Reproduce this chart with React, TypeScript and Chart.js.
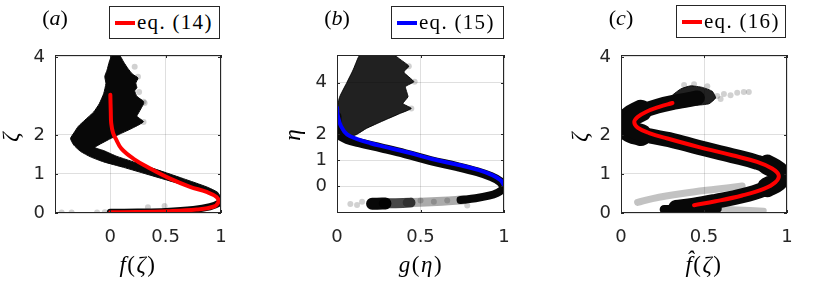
import React, { useEffect, useRef } from "react";
import { Chart, registerables } from "chart.js";

Chart.register(...registerables);

// ---------------- data ----------------
// panel (a)
const A_X_TICKS = [0, 0.5, 1];
const A_Y_TICKS = [0, 1, 2, 4];
const A_RED_X = [0.0, 0.004, 0.008, 0.025, 0.05, 0.1, 0.21, 0.36, 0.54, 0.72, 0.87, 0.96, 0.976, 0.93, 0.78, 0.51, 0.24, 0.0];
const A_RED_Y = [3.03, 2.6, 2.3, 2.05, 1.9, 1.65, 1.39, 1.14, 0.88, 0.67, 0.54, 0.41, 0.28, 0.16, 0.09, 0.045, 0.025, 0.02];
const A_BAND_X = [0.0, 0.25, 0.5, 0.75, 0.9, 0.98, 1.0];
const A_BAND_Y = [0.02, 0.025, 0.04, 0.09, 0.16, 0.25, 0.33];
const A_CLOUD_X = [1.0, 0.97, 0.87, 0.66, 0.36, 0.12, -0.06, -0.18, -0.27, -0.33, -0.36, -0.33, -0.29, -0.23, -0.15, -0.1, -0.06, -0.04, -0.05, -0.03, -0.01, 0.01, 0.05, 0.09, 0.12, 0.16, 0.2, 0.25, 0.23, 0.24, 0.22, 0.24, 0.3, 0.3, 0.26, 0.24, 0.3, 0.21, 0.09, -0.03, -0.14, -0.06, 0.06, 0.36, 0.66, 0.87, 0.97, 1.0];
const A_CLOUD_Y = [0.3, 0.42, 0.53, 0.72, 0.97, 1.17, 1.31, 1.44, 1.58, 1.74, 1.91, 2.05, 2.22, 2.38, 2.59, 2.8, 3.06, 3.32, 3.5, 3.66, 3.87, 4.02, 4.1, 4.02, 3.87, 3.7, 3.56, 3.46, 3.33, 3.21, 3.13, 2.99, 2.86, 2.8, 2.59, 2.48, 2.34, 2.19, 2.03, 1.86, 1.68, 1.6, 1.45, 1.17, 0.88, 0.67, 0.53, 0.38];
const A_DOTS_X = [-0.44, -0.35, -0.12, -0.05, 0.34, 0.49, 0.25, 0.3, 0.3, 0.26, 0.31, 0.22];
const A_DOTS_Y = [0.01, 0.01, 0.01, 0.02, 0.15, 0.18, 3.49, 2.85, 2.33, 3.1, 2.82, 3.75];

// panel (b)
const B_X_TICKS = [0, 0.5, 1];
const B_Y_TICKS = [0, 1, 2, 4];
const B_BLUE_X = [0.0, 0.006, 0.025, 0.06, 0.13, 0.2, 0.28, 0.42, 0.57, 0.73, 0.85, 0.93, 0.98, 1.0];
const B_BLUE_Y = [3.04, 2.68, 2.3, 2.0, 1.8, 1.66, 1.53, 1.31, 1.05, 0.82, 0.62, 0.43, 0.23, 0.03];
const B_BAND_X = [0.0, 0.0, 0.02, 0.06, 0.13, 0.27, 0.41, 0.56, 0.72, 0.84, 0.92, 0.975, 1.0];
const B_BAND_Y = [2.7, 2.2, 1.95, 1.8, 1.68, 1.47, 1.25, 0.99, 0.76, 0.56, 0.38, 0.19, 0.0];
const B_ARM1_X = [1.0, 0.99, 0.96, 0.91, 0.83, 0.74];
const B_ARM1_Y = [0.02, -0.12, -0.25, -0.36, -0.46, -0.53];
const B_ARM2_X = [0.76, 0.63, 0.5, 0.42];
const B_ARM2_Y = [-0.52, -0.58, -0.62, -0.63];
const B_ARM3_X = [0.44, 0.35, 0.28];
const B_ARM3_Y = [-0.63, -0.65, -0.66];
const B_ARM4_X = [0.29, 0.24, 0.21];
const B_ARM4_Y = [-0.66, -0.67, -0.67];
const B_CLOUD_X = [0.0, 0.0, 0.016, 0.056, 0.096, 0.13, 0.15, 0.33, 0.385, 0.43, 0.4, 0.46, 0.41, 0.425, 0.395, 0.445, 0.375, 0.275, 0.176, 0.116, 0.05, 0.01];
const B_CLOUD_Y = [1.8, 3.0, 3.45, 3.96, 4.48, 5.0, 5.1, 5.1, 4.86, 4.63, 4.4, 4.03, 3.84, 3.45, 3.19, 3.0, 2.8, 2.52, 2.23, 1.99, 1.85, 1.78];
const B_DOTS_X = [0.43, 0.465, 0.445, 0.08, 0.12, 0.15, 0.5, 0.58, 0.66, 0.78];
const B_DOTS_Y = [4.63, 4.03, 3.0, -0.68, -0.72, -0.6, -0.55, -0.6, -0.55, -0.74];

// panel (c)
const C_X_TICKS = [0, 0.5, 1];
const C_Y_TICKS = [0, 1, 2, 4];
const C_RED_X = [0.31, 0.23, 0.15, 0.1, 0.08, 0.1, 0.17, 0.28, 0.47, 0.67, 0.82, 0.91, 0.95, 0.93, 0.86, 0.73, 0.57, 0.44];
const C_RED_Y = [2.82, 2.72, 2.59, 2.46, 2.33, 2.19, 2.05, 1.91, 1.69, 1.48, 1.31, 1.14, 0.97, 0.79, 0.62, 0.45, 0.3, 0.2];
const C_BAND_X = [0.46, 0.4, 0.32, 0.22, 0.13, 0.07, 0.045, 0.05, 0.1, 0.18, 0.29, 0.47, 0.67, 0.82, 0.915, 0.955, 0.935, 0.86, 0.73, 0.57, 0.44, 0.33];
const C_BAND_Y = [2.95, 2.9, 2.84, 2.74, 2.61, 2.47, 2.33, 2.18, 2.06, 1.97, 1.88, 1.68, 1.47, 1.3, 1.13, 0.96, 0.78, 0.61, 0.44, 0.3, 0.2, 0.14];
const C_BULGE1_X = [0.12, 0.05, 0.035, 0.05, 0.12];
const C_BULGE1_Y = [2.62, 2.45, 2.28, 2.1, 2.0];
const C_BULGE2_X = [0.88, 0.945, 0.96, 0.94, 0.88];
const C_BULGE2_Y = [1.24, 1.08, 0.95, 0.8, 0.66];
const C_CLOUD_X = [0.27, 0.31, 0.36, 0.42, 0.49, 0.55, 0.57, 0.53, 0.45, 0.36];
const C_CLOUD_Y = [2.8, 3.02, 3.18, 3.26, 3.22, 3.12, 2.95, 2.8, 2.76, 2.76];
const C_ARMG_X = [0.1, 0.19, 0.37, 0.57, 0.73];
const C_ARMG_Y = [0.27, 0.37, 0.5, 0.61, 0.69];
const C_ARMD_X = [0.26, 0.36, 0.47, 0.58];
const C_ARMD_Y = [0.09, 0.09, 0.1, 0.11];
const C_ARML_X = [0.58, 0.7, 0.86];
const C_ARML_Y = [0.11, 0.09, 0.06];
const C_DOTS_X = [0.58, 0.62, 0.66, 0.7, 0.74, 0.77, 0.44, 0.38, 0.52, 0.6];
const C_DOTS_Y = [3.0, 3.05, 3.02, 3.08, 3.1, 3.1, 3.3, 3.28, 3.25, 2.92];

// ---------------- layout / style ----------------
const W = 831;
const H = 289;
const YW = 40;
const XH = 40;
const GRID = "rgba(38,38,38,0.15)";
const INK = "#262626";
const TICK_FONT = { family: "'DejaVu Sans', 'Liberation Sans', sans-serif", size: 18 };
const SERIF = "'Liberation Serif', 'Times New Roman', serif";
const RED = "#ff0000";
const BLUE = "#0000ff";
const BLACK = "#080808";
const FAN = "rgba(0,0,0,0.87)";
const GRAY = "rgba(0,0,0,0.33)";
const LIGHT = "rgba(0,0,0,0.24)";
const FAINT = "rgba(0,0,0,0.18)";

const pts = (xs: number[], ys: number[]) => xs.map((x, i) => ({ x, y: ys[i] }));

function lineDs(xs: number[], ys: number[], color: string, width: number, clip: any = 0, tension = 0.4) {
  return {
    data: pts(xs, ys),
    borderColor: color,
    backgroundColor: color,
    borderWidth: width,
    pointRadius: 0,
    tension,
    fill: false,
    clip,
    borderCapStyle: "round",
    borderJoinStyle: "round",
  };
}
function polyDs(xs: number[], ys: number[], color: string) {
  return {
    data: pts(xs, ys),
    borderColor: color,
    backgroundColor: color,
    borderWidth: 1,
    pointRadius: 0,
    tension: 0.15,
    fill: "shape",
    clip: 0,
  };
}
function dotDs(xs: number[], ys: number[], color: string, r = 3) {
  return {
    data: pts(xs, ys),
    showLine: false,
    pointRadius: r,
    pointBackgroundColor: color,
    pointBorderWidth: 0,
    backgroundColor: color,
    borderColor: color,
    clip: 0,
  };
}

const framePlugin = {
  id: "frame",
  afterDatasetsDraw(chart: any) {
    const { ctx, chartArea: a, scales } = chart;
    ctx.save();
    ctx.strokeStyle = INK;
    ctx.lineWidth = 1;
    ctx.strokeRect(a.left + 0.5, a.top + 0.5, a.right - a.left - 1, a.bottom - a.top - 1);
    ctx.beginPath();
    for (const t of scales.x.ticks) {
      const px = Math.round(scales.x.getPixelForValue(t.value)) + 0.5;
      ctx.moveTo(px, a.bottom);
      ctx.lineTo(px, a.bottom - 3);
      ctx.moveTo(px, a.top);
      ctx.lineTo(px, a.top + 3);
    }
    for (const t of scales.y.ticks) {
      const py = Math.round(scales.y.getPixelForValue(t.value)) + 0.5;
      ctx.moveTo(a.left, py);
      ctx.lineTo(a.left + 3, py);
      ctx.moveTo(a.right, py);
      ctx.lineTo(a.right - 3, py);
    }
    ctx.stroke();
    ctx.restore();
  },
};

type Panel = {
  left: number; right: number; top: number; bottom: number;
  xMin: number; xMax: number; yMin: number; yMax: number;
  xTicks: number[]; yTicks: number[]; datasets: any[];
};

const PANELS: Panel[] = [
  {
    left: 55, right: 221, top: 55, bottom: 213,
    xMin: -0.5, xMax: 1, yMin: 0, yMax: 4.05,
    xTicks: A_X_TICKS, yTicks: A_Y_TICKS,
    datasets: [
      lineDs(A_RED_X, A_RED_Y, RED, 4, undefined),
      lineDs(A_BAND_X, A_BAND_Y, BLACK, 7),
      polyDs(A_CLOUD_X, A_CLOUD_Y, BLACK),
      dotDs(A_DOTS_X, A_DOTS_Y, FAINT),
    ],
  },
  {
    left: 337, right: 504, top: 55, bottom: 213,
    xMin: 0, xMax: 1, yMin: -1.03, yMax: 5.06,
    xTicks: B_X_TICKS, yTicks: B_Y_TICKS,
    datasets: [
      lineDs(B_BLUE_X, B_BLUE_Y, BLUE, 4, undefined),
      lineDs(B_BAND_X, B_BAND_Y, BLACK, 9),
      lineDs(B_ARM1_X, B_ARM1_Y, BLACK, 8),
      lineDs(B_ARM2_X, B_ARM2_Y, GRAY, 9),
      lineDs(B_ARM3_X, B_ARM3_Y, "rgba(0,0,0,0.72)", 10),
      lineDs(B_ARM4_X, B_ARM4_Y, BLACK, 12),
      polyDs(B_CLOUD_X, B_CLOUD_Y, FAN),
      dotDs(B_DOTS_X, B_DOTS_Y, FAINT),
    ],
  },
  {
    left: 621, right: 787, top: 55, bottom: 213,
    xMin: 0, xMax: 1, yMin: 0, yMax: 4.05,
    xTicks: C_X_TICKS, yTicks: C_Y_TICKS,
    datasets: [
      lineDs(C_RED_X, C_RED_Y, RED, 4, undefined),
      lineDs(C_BAND_X, C_BAND_Y, BLACK, 15),
      lineDs(C_BULGE1_X, C_BULGE1_Y, BLACK, 22),
      lineDs(C_BULGE2_X, C_BULGE2_Y, BLACK, 20),
      polyDs(C_CLOUD_X, C_CLOUD_Y, FAN),
      lineDs(C_ARMD_X, C_ARMD_Y, BLACK, 9),
      lineDs(C_ARML_X, C_ARML_Y, LIGHT, 6),
      lineDs(C_ARMG_X, C_ARMG_Y, LIGHT, 7),
      dotDs(C_DOTS_X, C_DOTS_Y, FAINT),
    ],
  },
];

function makeConfig(p: Panel): any {
  return {
    type: "line",
    data: { datasets: p.datasets },
    options: {
      animation: false,
      responsive: false,
      devicePixelRatio: 1,
      events: [],
      layout: {
        padding: { left: p.left - YW, right: W - p.right, top: p.top, bottom: H - p.bottom - XH },
      },
      plugins: { legend: { display: false }, tooltip: { enabled: false } },
      scales: {
        x: {
          type: "linear",
          min: p.xMin,
          max: p.xMax,
          afterFit: (s: any) => { s.height = XH; },
          afterBuildTicks: (s: any) => { s.ticks = p.xTicks.map((v) => ({ value: v })); },
          grid: { color: GRID, lineWidth: 1, drawTicks: false },
          border: { display: false },
          ticks: { padding: 14, color: INK, font: TICK_FONT, maxRotation: 0, callback: (v: any) => String(v) },
        },
        y: {
          type: "linear",
          min: p.yMin,
          max: p.yMax,
          afterFit: (s: any) => { s.width = YW; },
          afterBuildTicks: (s: any) => { s.ticks = p.yTicks.map((v) => ({ value: v })); },
          grid: { color: GRID, lineWidth: 1, drawTicks: false },
          border: { display: false },
          ticks: { padding: 10, color: INK, font: TICK_FONT, callback: (v: any) => String(v) },
        },
      },
    },
    plugins: [framePlugin],
  };
}

function PanelCanvas({ panel }: { panel: Panel }) {
  const ref = useRef<HTMLCanvasElement>(null);
  useEffect(() => {
    const chart = new Chart(ref.current as HTMLCanvasElement, makeConfig(panel));
    return () => chart.destroy();
  }, [panel]);
  return (
    <canvas
      ref={ref}
      width={W}
      height={H}
      style={{ position: "absolute", left: 0, top: 0, width: W, height: H }}
    />
  );
}

const LEGENDS = [
  { left: 109, top: 6, width: 111, label: "eq.\u00a0(14)", color: RED },
  { left: 391, top: 6, width: 113, label: "eq.\u00a0(15)", color: BLUE },
  { left: 676, top: 5, width: 110, label: "eq.\u00a0(16)", color: RED },
];

const abs = (extra: any) => ({ position: "absolute" as const, ...extra });

export default function App() {
  return (
    <div style={abs({ left: 0, top: 0, width: W, height: H, background: "#fff", overflow: "hidden" })}>
      {PANELS.map((p, i) => (
        <PanelCanvas key={i} panel={p} />
      ))}
      {LEGENDS.map((l, i) => (
        <div
          key={"lg" + i}
          style={abs({
            left: l.left, top: l.top, width: l.width, height: 33, boxSizing: "border-box",
            border: "1px solid " + INK, background: "#fff", display: "flex", alignItems: "center",
          })}
        >
          <span style={{ display: "inline-block", width: 20, height: 4, background: l.color, marginLeft: 5 }} />
          <span style={{ marginLeft: 2, fontFamily: SERIF, fontSize: 21, letterSpacing: "1.3px", color: "#000", whiteSpace: "nowrap" }}>
            {l.label}
          </span>
        </div>
      ))}
      {[["a", 55], ["b", 337], ["c", 621]].map(([t, cx]) => (
        <div
          key={"pl" + t}
          style={abs({ left: cx as number, top: 18, transform: "translate(-50%,-50%)", fontFamily: SERIF, fontSize: 22, whiteSpace: "nowrap" })}
        >
          (<i>{t}</i>)
        </div>
      ))}
      <div style={abs({ left: 138, top: 265, transform: "translate(-50%,-50%)", fontFamily: SERIF, fontSize: 23, letterSpacing: "1.5px", whiteSpace: "nowrap" })}>
        <i>f</i>(<i>ζ</i>)
      </div>
      <div style={abs({ left: 421, top: 265, transform: "translate(-50%,-50%)", fontFamily: SERIF, fontSize: 23, letterSpacing: "1.5px", whiteSpace: "nowrap" })}>
        <i>g</i>(<i>η</i>)
      </div>
      <div style={abs({ left: 704, top: 265, transform: "translate(-50%,-50%)", fontFamily: SERIF, fontSize: 23, letterSpacing: "1.5px", whiteSpace: "nowrap" })}>
        <i>f̂</i>(<i>ζ</i>)
      </div>
      <div style={abs({ left: 11, top: 137, transform: "translate(-50%,-50%) rotate(-90deg)", fontFamily: SERIF, fontSize: 23, fontStyle: "italic" })}>
        ζ
      </div>
      <div style={abs({ left: 293, top: 135, transform: "translate(-50%,-50%) rotate(-90deg)", fontFamily: SERIF, fontSize: 23, fontStyle: "italic" })}>
        η
      </div>
      <div style={abs({ left: 580, top: 137, transform: "translate(-50%,-50%) rotate(-90deg)", fontFamily: SERIF, fontSize: 23, fontStyle: "italic" })}>
        ζ
      </div>
    </div>
  );
}
